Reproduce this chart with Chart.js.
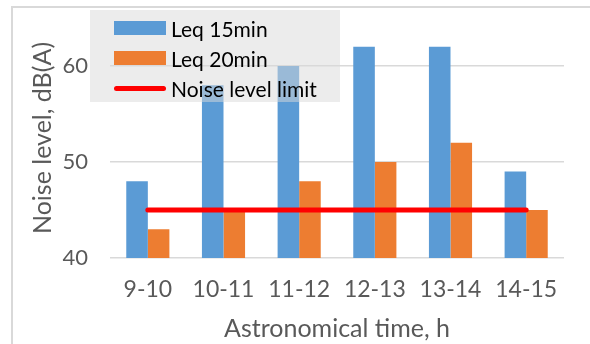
<!DOCTYPE html>
<html lang="en">
<head>
  <meta charset="UTF-8">
  <title>Noise level</title>
  <script src="https://cdn.jsdelivr.net/npm/chart.js"></script>
  <style>
    body { margin: 0; background: #fff; }
    #wrap { position: relative; width: 590px; height: 344px; overflow: hidden; }
    #frame { position: absolute; left: 11px; top: 6px; width: 600px; height: 360px; border: 2px solid #d9d9d9; box-sizing: border-box; }
    #legend { position: absolute; left: 90px; top: 10px; width: 250px; height: 92px;
      background: rgba(217, 217, 217, 0.5); font-family: Lato, sans-serif; font-size: 21px; color: #000; }
    .item { position: absolute; left: 24px; height: 30px; display: flex; align-items: center; }
    .swatch { width: 52px; height: 14px; margin-right: 5px; }
  </style>
</head>
<body>
  <div id="wrap">
    <canvas id="noiseChart" width="590" height="344"></canvas>
    <div id="frame"></div>
    <div id="legend"></div>
  </div>

  <script>
    // Values
    const periods = ['9-10', '10-11', '11-12', '12-13', '13-14', '14-15'];
    const leq15 = [48, 58, 60, 62, 62, 49];
    const leq20 = [43, 45, 48, 50, 52, 45];
    const noiseLimit = [45, 45, 45, 45, 45, 45];
    const yTicks = [40, 50, 60];

    const grey = '#595959';

    const ctx = document.getElementById('noiseChart').getContext('2d');
    const chart = new Chart(ctx, {
      type: 'bar',
      data: {
        labels: periods,
        datasets: [
          { label: 'Leq 15min', data: leq15, backgroundColor: '#5b9bd5', order: 1,
            categoryPercentage: 0.57, barPercentage: 1 },
          { label: 'Leq 20min', data: leq20, backgroundColor: '#ed7d31', order: 1,
            categoryPercentage: 0.57, barPercentage: 1 },
          { type: 'line', label: 'Noise level limit', data: noiseLimit, borderColor: '#ff0000',
            backgroundColor: '#ff0000', borderWidth: 5, pointRadius: 0, borderCapStyle: 'round', order: 0 }
        ]
      },
      options: {
        responsive: false,
        animation: false,
        layout: { autoPadding: false, padding: { left: 0, top: 18, right: 26, bottom: 0 } },
        plugins: { legend: { display: false }, tooltip: { enabled: false } },
        scales: {
          x: {
            grid: { display: false },
            border: { display: false },
            ticks: { color: grey, font: { family: 'Lato', size: 23 }, padding: 10 },
            title: { display: true, text: 'Astronomical time, h', color: grey,
              font: { family: 'Lato', size: 25 }, padding: { top: 0, bottom: 0 } },
            afterFit: (s) => { s.height = 86; s.paddingLeft = 0; s.paddingRight = 0; }
          },
          y: {
            min: 40,
            max: 65,
            grid: { color: '#d9d9d9', lineWidth: 1.5, drawTicks: false },
            border: { display: false },
            ticks: { color: grey, font: { family: 'Lato', size: 22 }, padding: 22, stepSize: 10 },
            afterBuildTicks: (s) => { s.ticks = yTicks.map(v => ({ value: v })); },
            title: { display: true, text: 'Noise level, dB(A)', color: grey,
              font: { family: 'Lato', size: 25 }, padding: { top: 28 } },
            afterFit: (s) => { s.width = 110; s.paddingTop = 0; s.paddingBottom = 0; }
          }
        }
      }
    });

    // Legend sits over the plot, as in the original
    const legend = document.getElementById('legend');
    chart.data.datasets.forEach((ds, i) => {
      const item = document.createElement('div');
      item.className = 'item';
      item.style.top = (3 + i * 30) + 'px';
      const sw = document.createElement('span');
      sw.className = 'swatch';
      if (ds.type === 'line') {
        sw.style.height = '5px';
        sw.style.borderRadius = '3px';
        sw.style.background = ds.borderColor;
      } else {
        sw.style.background = ds.backgroundColor;
      }
      const txt = document.createElement('span');
      txt.textContent = ds.label;
      item.appendChild(sw);
      item.appendChild(txt);
      legend.appendChild(item);
    });
  </script>
</body>
</html>
